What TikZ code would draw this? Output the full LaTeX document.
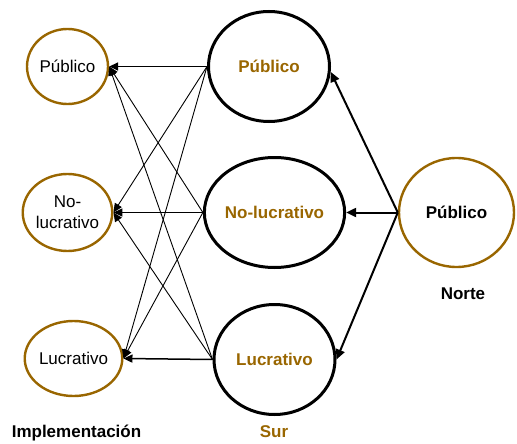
\documentclass[tikz,border=0pt]{standalone}
\usepackage{fontspec}
\setmainfont{Liberation Sans}
\usepackage{tikz}
\usetikzlibrary{shapes.geometric}
\usetikzlibrary{arrows.meta}
\definecolor{ocre}{RGB}{153,102,0}
\tikzstyle{every node}=[font=\fontsize{17}{21}\selectfont]
\tikzstyle{sector}=[ellipse, draw=ocre, line width=2.4pt, minimum width=81pt, minimum height=75pt, inner sep=0pt, align=center]
\tikzstyle{actor}=[ellipse, draw=black, line width=3pt, minimum width=121pt, minimum height=110pt, inner sep=0pt, text=ocre, font=\fontsize{17}{21}\selectfont\bfseries]
\tikzstyle{source}=[ellipse, draw=ocre, line width=2.4pt, minimum width=115pt, minimum height=109pt, inner sep=0pt, font=\fontsize{17}{21}\selectfont\bfseries]
\tikzstyle{heading}=[font=\fontsize{17}{21}\selectfont\bfseries]
\tikzstyle{arrow}=[-{Triangle[length=9pt,width=8pt]}, line width=1.5pt]
\tikzstyle{thin arrow}=[-{Triangle[length=9pt,width=8pt]}, line width=0.9pt]
\tikzstyle{thick arrow}=[-{Triangle[length=10pt,width=9pt]}, line width=2pt]

\begin{document}
\begin{tikzpicture}[x=1pt, y=-1pt]
      \useasboundingbox (0,0) rectangle (517,444);

      \node [sector] (implpub) at (67.5,66.5) {Público};
      \node [sector, minimum height=77pt] (implnol) at (67.5,212.5) {No-\\lucrativo};
      \node [sector] (impluc) at (73.5,358.5) {Lucrativo};

      \node [actor] (surpub) at (269,66.5) {Público};
      \node [actor] (surnol) at (274.5,212.5) {No-lucrativo};
      \node [actor] (surluc) at (274.5,359.5) {Lucrativo};

      \node [source] (nortepub) at (456.5,212.5) {Público};

      \node [heading] (impl) at (76.5,433) {Implementación};
      \node [heading, text=ocre] (sur) at (274,432) {Sur};
      \node [heading] (norte) at (463,294) {Norte};

      \draw [arrow] (surpub.west) -- (implpub.east);
      \draw [arrow] (surnol.west) -- (implnol.east);
      \draw [arrow] (surluc.west) -- (impluc.east);

      \draw [thin arrow] (surpub.west) -- (implnol.east);
      \draw [thin arrow] (surpub.west) -- (impluc.east);
      \draw [thin arrow] (surnol.west) -- (implpub.east);
      \draw [thin arrow] (surnol.west) -- (impluc.east);
      \draw [thin arrow] (surluc.west) -- (implpub.east);
      \draw [thin arrow] (surluc.west) -- (implnol.east);

      \draw [thick arrow] (nortepub.west) -- (surpub.-5);
      \draw [thick arrow] (nortepub.west) -- (surnol.east);
      \draw [thick arrow] (nortepub.west) -- (surluc.east);
    \end{tikzpicture}
\end{document}
